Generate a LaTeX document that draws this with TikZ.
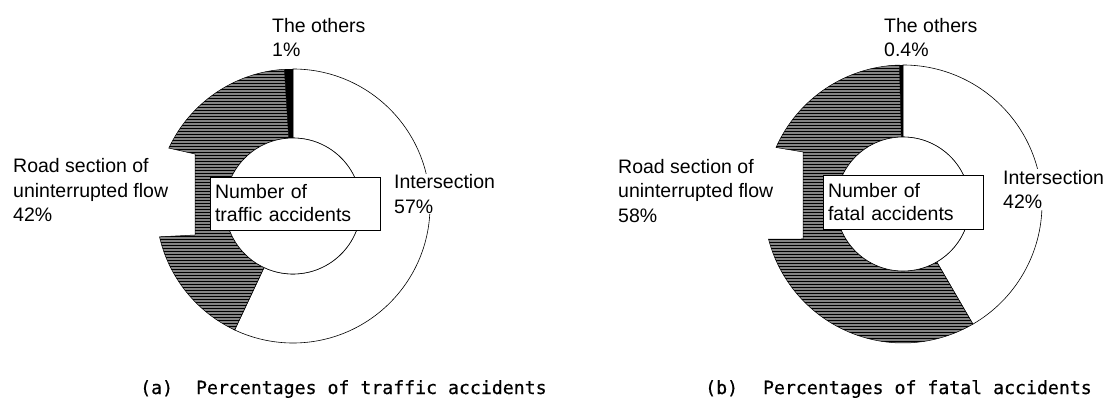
\documentclass[tikz,border=0pt]{standalone}
\usepackage{fontspec}
\setmainfont{Liberation Sans}
\newfontfamily\capfont[FakeBold=0.6]{DejaVu Sans Mono}
\usetikzlibrary{patterns,positioning}
\tikzset{>=latex}
\tikzset{
  hatched/.style={preaction={fill=black!48},pattern=horizontal lines,draw=black,line width=0.5pt},
  lbl/.style={anchor=west,align=left,inner sep=1pt,font=\fontsize{19.5}{24.5}\selectfont},
  countbox/.style={draw,fill=white,line width=0.7pt,align=left,anchor=center,inner sep=5pt,
    font=\fontsize{19.5}{23}\selectfont,text width=#1},
  caption/.style={anchor=base west,inner sep=0pt,font=\capfont\fontsize{18.2}{20}\selectfont}
}

\begin{document}
\begin{tikzpicture}[x=1pt,y=1pt]
    \useasboundingbox (0,0) rectangle (1106,399);
    % (a) traffic accidents
    \begin{scope}[shift={(293,193)}]
      \draw [fill=white,line width=0.6pt] (90:68) -- (90:137) arc [start angle=90,end angle=-115.2,radius=137]
        -- (-115.2:68) arc [start angle=-115.2,end angle=90,radius=68] -- cycle;
      \draw [hatched] (93.6:68) -- (93.6:137) arc [start angle=93.6,end angle=155,radius=137]
        -- (-98,52) -- (-98,-29) -- (193:137) arc [start angle=193,end angle=244.8,radius=137]
        -- (244.8:68) arc [start angle=244.8,end angle=93.6,radius=68] -- cycle;
      \fill [black] (90:68) -- (90:137) arc [start angle=90,end angle=93.6,radius=137]
        -- (93.6:68) arc [start angle=93.6,end angle=90,radius=68] -- cycle;
      \draw [fill=white,line width=0.6pt] (0,0) circle (68);
    \end{scope}
    \node [countbox=160pt,minimum height=53pt] (counta) at (295,195.5) {Number of\\traffic accidents};
    \node [lbl] (othersa) at (271,361.5) {The others\\1\%};
    \node [lbl] (roada) at (12,209) {Road section of\\uninterrupted flow\\42\%};
    \node [lbl,fill=white] (crossa) at (393,205) {Intersection\\57\%};
    \node [caption] (capa) at (140,5) {(a)\hspace{23pt}Percentages of traffic accidents};
    % (b) fatal accidents
    \begin{scope}[shift={(903,195)}]
      \draw [fill=white,line width=0.6pt] (90:67) -- (90:139) arc [start angle=90,end angle=-59.8,radius=139]
        -- (-59.8:67) arc [start angle=-59.8,end angle=90,radius=67] -- cycle;
      \draw [hatched] (91.44:67) -- (91.44:139) arc [start angle=91.44,end angle=156,radius=139]
        -- (-100,52) -- (-100,-35) -- (194.6:139) arc [start angle=194.6,end angle=300.2,radius=139]
        -- (300.2:67) arc [start angle=300.2,end angle=91.44,radius=67] -- cycle;
      \fill [black] (90:67) -- (90:139) arc [start angle=90,end angle=91.44,radius=139]
        -- (91.44:67) arc [start angle=91.44,end angle=90,radius=67] -- cycle;
      \draw [fill=white,line width=0.6pt] (0,0) circle (67);
    \end{scope}
    \node [countbox=150pt,minimum height=54pt] (countb) at (903,197) {Number of\\fatal accidents};
    \node [lbl] (othersb) at (883,361.5) {The others\\0.4\%};
    \node [lbl] (roadb) at (617,208) {Road section of\\uninterrupted flow\\58\%};
    \node [lbl,fill=white] (crossb) at (1002,209.5) {Intersection\\42\%};
    \node [caption] (capb) at (705,5) {(b)\hspace{25pt}Percentages of fatal accidents};
  \end{tikzpicture}
\end{document}
